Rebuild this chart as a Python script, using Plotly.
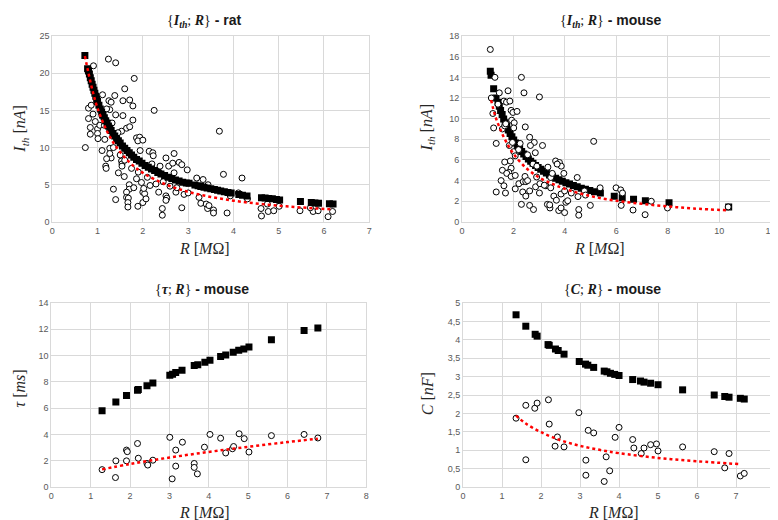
import plotly.graph_objects as go

W, H = 778, 520

# ---------------- Panel 1 : {I_th; R} - rat ----------------
rat_model_R = [0.72, 0.78, 0.80, 0.82, 0.84, 0.86, 0.88, 0.90, 0.92, 0.94, 0.96, 0.98, 1.00, 1.03, 1.06,
               1.09, 1.12, 1.15, 1.18, 1.21, 1.24, 1.27, 1.30, 1.34, 1.38, 1.42, 1.46, 1.50, 1.55, 1.60,
               1.65, 1.70, 1.75, 1.80, 1.86, 1.92, 1.98, 2.05, 2.12, 2.19, 2.26, 2.33, 2.40, 2.48, 2.56,
               2.64, 2.72, 2.80, 2.88, 2.96, 3.02, 3.15, 3.22, 3.28, 3.35, 3.42, 3.50, 3.58, 3.65, 3.72,
               3.80, 3.88, 3.95, 4.12, 4.20, 4.30, 4.62, 4.70, 4.78, 4.86, 4.95, 5.02, 5.48, 5.72, 5.80,
               5.88, 6.12, 6.20]
rat_model_I = [22.4, 20.6, 20.3, 19.9, 19.4, 19.0, 18.5, 18.1, 17.7, 17.3, 16.9, 16.5, 16.2, 15.7, 15.2,
               14.8, 14.4, 14.0, 13.6, 13.3, 12.9, 12.6, 12.3, 11.9, 11.55, 11.2, 10.9, 10.6, 10.2, 9.9,
               9.6, 9.3, 9.0, 8.7, 8.4, 8.2, 7.9, 7.6, 7.35, 7.1, 6.9, 6.65, 6.45, 6.25, 6.0,
               5.85, 5.65, 5.5, 5.35, 5.25, 5.2, 4.95, 4.85, 4.75, 4.65, 4.55, 4.45, 4.35, 4.25, 4.15,
               4.05, 3.95, 3.9, 3.7, 3.6, 3.5, 3.25, 3.2, 3.15, 3.1, 3.0, 2.95, 2.75, 2.6, 2.55,
               2.5, 2.45, 2.4]
rat_data_R = [1.24, 1.40, 1.81, 0.91, 1.60, 1.38, 1.11, 0.80, 0.86, 1.25, 1.30, 1.56, 1.71, 1.78, 1.27,
              2.25, 0.80, 1.40, 1.56, 1.78, 0.84, 0.84, 1.00, 1.00, 1.01, 1.16, 1.64, 1.71, 1.53, 0.73,
              3.69, 1.86, 1.93, 1.89, 2.00, 1.94, 2.14, 2.22, 2.23, 1.27, 1.35, 1.30, 1.27, 1.18, 1.19,
              1.53, 1.54, 1.54, 1.46, 1.59, 1.86, 1.35, 1.40, 1.70, 1.70, 1.64, 1.64, 1.68, 1.67, 1.67,
              1.80, 1.89, 1.97, 2.00, 2.00, 2.04, 2.07, 2.02, 2.16, 2.29, 2.35, 2.38, 2.51, 2.69, 2.57,
              2.66, 2.80, 2.86, 2.98, 2.69, 2.37, 2.51, 2.53, 2.51, 2.43, 2.43, 2.73, 2.91, 2.86, 3.19,
              3.33, 3.24, 3.28, 3.40, 3.43, 3.46, 3.44, 3.56, 3.56, 3.78, 3.86, 4.19, 4.11, 3.93, 4.31,
              4.61, 4.62, 4.77, 4.89, 4.75, 5.01, 5.47, 5.76, 5.87, 5.70, 6.09, 6.19,
              0.95, 1.05, 1.10, 1.20, 1.15, 0.90, 1.32, 1.45, 1.50, 1.60, 1.75, 1.90, 2.10, 2.20, 2.45,
              2.60, 2.75, 3.00, 1.10, 1.20]
rat_data_I = [21.9, 21.4, 19.3, 21.0, 17.9, 17.0, 17.1, 15.3, 15.7, 16.3, 16.1, 16.3, 16.4, 15.6, 15.1,
              15.0, 13.9, 14.4, 14.3, 13.7, 12.7, 11.8, 12.5, 11.9, 11.2, 11.1, 12.6, 12.8, 12.2, 10.0,
              12.2, 11.3, 11.4, 10.9, 11.0, 9.6, 9.5, 9.3, 8.9, 9.9, 10.0, 8.6, 9.2, 7.5, 7.2,
              8.2, 7.8, 7.5, 6.6, 6.1, 5.8, 4.4, 3.0, 5.0, 4.4, 4.0, 3.3, 3.2, 2.6, 2.0,
              4.6, 2.1, 5.3, 4.0, 2.6, 3.8, 3.1, 4.5, 4.9, 5.1, 4.0, 7.5, 8.6, 9.2, 7.5,
              7.9, 8.0, 7.7, 7.0, 6.6, 6.6, 3.5, 3.2, 2.9, 1.8, 0.9, 4.0, 3.7, 1.9, 5.9,
              5.7, 3.3, 2.5, 2.4, 1.8, 2.2, 5.0, 1.6, 1.2, 6.4, 1.2, 5.9, 3.9, 3.5, 3.1,
              1.8, 0.8, 1.4, 1.5, 2.4, 2.1, 1.5, 1.4, 1.5, 1.9, 0.7, 1.4,
              13.5, 13.0, 14.2, 15.2, 13.0, 14.5, 13.3, 12.0, 9.0, 8.3, 7.2, 6.7, 6.0, 7.8, 5.4,
              4.8, 4.6, 3.9, 9.6, 8.5]
rat_fit_R = [0.72, 0.80, 0.90, 1.00, 1.20, 1.40, 1.70, 2.00, 2.50, 3.00, 3.50, 4.00, 4.50, 5.00, 5.50, 6.20]
rat_fit_I = [22.3, 20.0, 17.4, 15.3, 12.3, 10.2, 8.05, 6.6, 5.05, 4.05, 3.36, 2.86, 2.48, 2.18, 1.94, 1.68]

# ---------------- Panel 2 : {I_th; R} - mouse ----------------
mouse_model_R = [1.10, 1.13, 1.23, 1.32, 1.40, 1.45, 1.50, 1.56, 1.62, 1.68, 1.74, 1.80, 1.87, 1.94, 2.01,
                 2.08, 2.16, 2.24, 2.32, 2.40, 2.49, 2.58, 2.67, 2.76, 2.86, 2.96, 3.06, 3.17, 3.28, 3.40,
                 3.52, 3.64, 3.77, 3.90, 4.04, 4.18, 4.33, 4.48, 4.64, 4.80, 4.97, 5.15, 5.38, 5.92, 6.23,
                 6.67, 7.13, 8.05, 10.37]
mouse_model_I = [14.6, 14.2, 12.9, 12.0, 11.6, 11.2, 10.8, 10.4, 9.97, 9.6, 9.24, 8.9, 8.56, 8.24, 7.93,
                 7.65, 7.35, 7.08, 6.82, 6.58, 6.33, 6.09, 5.87, 5.67, 5.46, 5.27, 5.09, 4.9, 4.73, 4.55,
                 4.39, 4.23, 4.08, 3.94, 3.79, 3.66, 3.52, 3.4, 3.27, 3.16, 3.04, 2.93, 2.8, 2.48, 2.35,
                 2.2, 2.05, 1.85, 1.45]
mouse_data_R = [1.10, 1.28, 2.31, 2.41, 1.45, 1.79, 1.14, 3.01, 1.63, 1.73, 1.86, 1.91, 1.98, 2.14, 1.20,
                1.93, 2.03, 2.46, 1.23, 1.57, 1.66, 2.01, 1.33, 1.84, 1.96, 2.26, 2.63, 2.81, 3.13, 5.12,
                2.66, 2.85, 2.01, 2.07, 2.55, 2.76, 2.91, 1.88, 1.66, 1.91, 1.82, 1.57, 1.74, 1.91, 2.07,
                1.52, 1.63, 1.33, 1.69, 2.21, 2.38, 2.48, 2.45, 2.07, 2.36, 2.48, 2.63, 2.86, 3.01, 3.03,
                3.26, 3.45, 3.45, 3.64, 3.79, 3.86, 3.70, 3.96, 3.34, 3.51, 3.57, 3.67, 3.85, 3.99, 4.04,
                4.11, 2.31, 2.63, 2.78, 3.32, 3.42, 3.41, 3.76, 3.85, 3.99, 4.48, 4.51, 4.54, 4.54, 4.76,
                4.99, 5.37, 5.99, 6.17, 6.24, 6.19, 6.65, 7.12, 7.36, 7.99, 10.35,
                1.40, 1.70, 2.20, 2.55, 2.90, 3.20, 4.25, 4.80]
mouse_data_I = [16.7, 14.0, 14.0, 12.5, 12.5, 12.7, 12.0, 12.1, 11.7, 11.6, 11.7, 10.8, 10.6, 10.7, 10.5,
                9.85, 9.6, 9.2, 9.1, 9.0, 9.3, 9.1, 7.6, 7.4, 7.7, 7.6, 8.2, 7.7, 7.4, 7.8,
                7.4, 6.7, 6.8, 6.4, 6.5, 5.6, 5.4, 5.9, 5.8, 5.2, 4.8, 5.0, 4.7, 4.4, 4.5,
                4.0, 3.5, 2.9, 2.8, 3.7, 3.9, 3.9, 4.4, 3.2, 2.9, 2.5, 3.0, 3.4, 2.8, 3.7,
                3.5, 3.3, 4.3, 5.9, 5.75, 5.4, 5.6, 4.7, 5.3, 4.7, 2.5, 2.1, 2.7, 3.0, 1.9,
                2.05, 1.7, 1.6, 1.2, 1.7, 1.35, 1.65, 1.1, 1.35, 0.9, 4.3, 2.45, 1.2, 0.65, 3.0,
                1.6, 3.3, 3.3, 3.1, 2.8, 1.6, 1.15, 0.7, 2.0, 1.35, 1.45,
                11.4, 9.5, 7.0, 4.0, 4.35, 3.55, 2.8, 2.6]
mouse_fit_R = [1.13, 1.30, 1.50, 1.75, 2.00, 2.50, 3.00, 3.50, 4.00, 5.00, 6.00, 7.00, 8.00, 9.00, 10.35]
mouse_fit_I = [11.8, 10.2, 8.9, 7.6, 6.6, 5.2, 4.3, 3.7, 3.2, 2.5, 2.05, 1.75, 1.5, 1.3, 1.12]

# ---------------- Panel 3 : {tau; R} - mouse ----------------
tau_model_R = [1.29, 1.64, 1.91, 2.19, 2.21, 2.43, 2.58, 3.01, 3.08, 3.16, 3.32, 3.63, 3.72, 3.90, 4.03,
               4.30, 4.43, 4.62, 4.76, 4.89, 5.02, 5.59, 6.42, 6.77]
tau_model_ms = [5.80, 6.47, 6.97, 7.36, 7.41, 7.71, 7.91, 8.51, 8.58, 8.71, 8.88, 9.25, 9.30, 9.50, 9.65,
                9.93, 10.05, 10.25, 10.40, 10.50, 10.65, 11.20, 11.90, 12.10]
tau_data_R = [1.29, 1.63, 1.64, 1.91, 1.93, 1.91, 2.19, 2.21, 2.43, 2.45, 2.58, 3.01, 3.07, 3.16, 3.16,
              3.33, 3.63, 3.63, 3.71, 3.89, 4.03, 4.30, 4.43, 4.60, 4.63, 4.77, 4.90, 5.02, 5.59, 6.42, 6.77]
tau_data_ms = [1.32, 0.72, 1.99, 2.81, 2.69, 1.99, 3.31, 2.19, 1.79, 1.67, 2.04, 3.78, 0.62, 2.81, 1.59,
               3.41, 1.79, 1.49, 1.00, 3.03, 4.00, 3.71, 2.59, 2.91, 3.08, 4.05, 3.68, 2.66, 3.91, 4.00, 3.73]
tau_fit_R = [1.29, 2.00, 3.00, 4.00, 5.00, 6.00, 6.77]
tau_fit_ms = [1.34, 1.75, 2.24, 2.67, 3.06, 3.42, 3.68]

# ---------------- Panel 4 : {C; R} - mouse ----------------
cap_model_R = [1.36, 1.61, 1.85, 1.90, 2.18, 2.21, 2.37, 2.44, 2.59, 2.98, 3.14, 3.20, 3.35, 3.62, 3.69,
               3.78, 3.89, 4.00, 4.35, 4.55, 4.64, 4.81, 5.00, 5.63, 6.44, 6.71, 6.82, 7.11, 7.21]
cap_model_nF = [4.68, 4.37, 4.15, 4.10, 3.87, 3.85, 3.75, 3.71, 3.61, 3.41, 3.34, 3.31, 3.25, 3.15, 3.13,
                3.09, 3.06, 3.03, 2.92, 2.88, 2.85, 2.82, 2.78, 2.64, 2.50, 2.46, 2.44, 2.41, 2.39]
cap_data_R = [1.36, 1.61, 1.61, 1.84, 1.90, 2.19, 2.21, 2.36, 2.42, 2.59, 2.97, 3.15, 3.15, 3.21, 3.35,
              3.62, 3.67, 3.76, 3.90, 4.00, 4.35, 4.38, 4.57, 4.64, 4.81, 4.96, 5.00, 5.63, 6.44, 6.71,
              6.82, 7.11, 7.21]
cap_data_nF = [1.87, 2.22, 0.74, 2.14, 2.28, 2.37, 1.71, 1.11, 1.36, 1.09, 2.02, 0.73, 0.32, 1.54, 1.47,
               0.15, 0.82, 0.44, 1.35, 1.62, 1.29, 1.06, 0.91, 1.06, 1.15, 1.17, 0.98, 1.09, 0.96, 0.52,
               0.91, 0.30, 0.37]
cap_fit_R = [1.36, 1.60, 2.00, 2.50, 3.00, 3.50, 4.00, 5.00, 6.00, 7.11]
cap_fit_nF = [1.94, 1.73, 1.49, 1.27, 1.12, 1.01, 0.92, 0.79, 0.70, 0.62]

# ---------------- Tick labels ----------------
x1_ticks = [0, 1, 2, 3, 4, 5, 6, 7]
y1_ticks = [0, 5, 10, 15, 20, 25]
x2_ticks = [0, 2, 4, 6, 8, 10, 12]
y2_ticks = [0, 2, 4, 6, 8, 10, 12, 14, 16, 18]
x3_ticks = [0, 1, 2, 3, 4, 5, 6, 7, 8]
y3_ticks = [0, 2, 4, 6, 8, 10, 12, 14]
x4_ticks = [0, 1, 2, 3, 4, 5, 6, 7, 8]
y4_ticks = [0, 0.5, 1, 1.5, 2, 2.5, 3, 3.5, 4, 4.5, 5]
y4_labels = ["0", "0,5", "1", "1,5", "2", "2,5", "3", "3,5", "4", "4,5", "5"]

GRID = "#d9d9d9"
TICK_FONT = dict(family="Liberation Sans", size=9, color="#595959")
SERIF = "Liberation Serif"


def px_x(p):
    return p / W


def px_y(p):
    return 1 - p / H


def axis(dom, rng, tickvals, ticktext=None):
    return dict(domain=dom, range=rng, tickmode="array", tickvals=tickvals,
                ticktext=ticktext if ticktext else [str(v) for v in tickvals],
                showgrid=True, gridcolor=GRID, gridwidth=1, zeroline=False,
                showline=True, linecolor=GRID, linewidth=1, mirror=True,
                ticks="", tickfont=TICK_FONT, fixedrange=True)


fig = go.Figure()

SQ_SIZE = 7
CIRC_SIZE = 6


def model(x, y, xa, ya):
    fig.add_trace(go.Scatter(x=x, y=y, xaxis=xa, yaxis=ya, mode="markers",
                             marker=dict(symbol="square", size=SQ_SIZE, color="black",
                                         line=dict(width=0)), hoverinfo="skip"))


def data(x, y, xa, ya):
    fig.add_trace(go.Scatter(x=x, y=y, xaxis=xa, yaxis=ya, mode="markers",
                             marker=dict(symbol="circle", size=CIRC_SIZE, color="white",
                                         line=dict(width=1, color="black")), hoverinfo="skip"))


def fit(x, y, xa, ya):
    fig.add_trace(go.Scatter(x=x, y=y, xaxis=xa, yaxis=ya, mode="lines", line_shape="spline",
                             line=dict(color="#ff0000", width=2.5, dash="dot"), hoverinfo="skip"))


# panel 1
data(rat_data_R, rat_data_I, "x", "y")
model(rat_model_R, rat_model_I, "x", "y")
fit(rat_fit_R, rat_fit_I, "x", "y")
# panel 2
model(mouse_model_R, mouse_model_I, "x2", "y2")
data(mouse_data_R, mouse_data_I, "x2", "y2")
fit(mouse_fit_R, mouse_fit_I, "x2", "y2")
# panel 3
model(tau_model_R, tau_model_ms, "x3", "y3")
data(tau_data_R, tau_data_ms, "x3", "y3")
fit(tau_fit_R, tau_fit_ms, "x3", "y3")
# panel 4
model(cap_model_R, cap_model_nF, "x4", "y4")
data(cap_data_R, cap_data_nF, "x4", "y4")
fit(cap_fit_R, cap_fit_nF, "x4", "y4")

top_dom = [px_y(213), px_y(23.5)]
bot_dom = [px_y(483.3), px_y(295.7)]

layout = dict(
    width=W, height=H, margin=dict(l=0, r=0, t=0, b=0),
    paper_bgcolor="white", plot_bgcolor="white", showlegend=False,
    hovermode=False,
    xaxis=axis([px_x(41.7), px_x(362)], [0, 7], x1_ticks),
    yaxis=axis(top_dom, [0, 25], y1_ticks),
    xaxis2=axis([px_x(455.7), px_x(767.5)], [0, 12], x2_ticks),
    yaxis2=axis(top_dom, [0, 18], y2_ticks),
    xaxis3=axis([px_x(40.7), px_x(359)], [0, 8], x3_ticks),
    yaxis3=axis(bot_dom, [0, 14], y3_ticks),
    xaxis4=axis([px_x(456.7), px_x(772)], [0, 8], x4_ticks),
    yaxis4=axis(bot_dom, [0, 5], y4_ticks, y4_labels),
)
for i in ["", "2", "3", "4"]:
    layout["xaxis" + i]["anchor"] = "y" + i
    layout["yaxis" + i]["anchor"] = "x" + i
fig.update_layout(**layout)


def math(s):
    return '<span style="font-family:%s">%s</span>' % (SERIF, s)


ith_bold = "<b><i>I</i></b><sub><b><i>th</i></b></sub>"
titles = [
    (math("{" + ith_bold + "; <b><i>R</i></b>}") + "<b> - rat</b>", 196, 8),
    (math("{" + ith_bold + "; <b><i>R</i></b>}") + "<b> - mouse</b>", 606, 8),
    (math("{<b><i>τ</i></b>; <b><i>R</i></b>}") + "<b> - mouse</b>", 193, 281),
    (math("{<b><i>C</i></b>; <b><i>R</i></b>}") + "<b> - mouse</b>", 608, 281),
]
for txt, xp, yp in titles:
    fig.add_annotation(text=txt, x=px_x(xp), y=px_y(yp), xref="paper", yref="paper",
                       showarrow=False, xanchor="center", yanchor="middle",
                       font=dict(family="Liberation Sans", size=14, color="#1a1a1a"))

r_title = math("<i>R</i> [<i>M</i>Ω]")
x_titles = [(r_title, 196, 240), (r_title, 595, 240), (r_title, 196, 509), (r_title, 609, 509)]
for txt, xp, yp in x_titles:
    fig.add_annotation(text=txt, x=px_x(xp), y=px_y(yp), xref="paper", yref="paper",
                       showarrow=False, xanchor="center", yanchor="middle",
                       font=dict(family=SERIF, size=16, color="#262626"))

y_titles = [
    (math("<i>I</i><sub><i>th</i></sub> [<i>nA</i>]"), 10, 118),
    (math("<i>I</i><sub><i>th</i></sub> [<i>nA</i>]"), 421, 117),
    (math("<i>τ</i> [<i>ms</i>]"), 9, 383),
    (math("<i>C</i> [<i>nF</i>]"), 421, 388),
]
for txt, xp, yp in y_titles:
    fig.add_annotation(text=txt, x=px_x(xp), y=px_y(yp), xref="paper", yref="paper",
                       showarrow=False, xanchor="center", yanchor="middle", textangle=-90,
                       font=dict(family=SERIF, size=16, color="#262626"))

fig.write_html("out.html", config={"displayModeBar": False, "staticPlot": True})
